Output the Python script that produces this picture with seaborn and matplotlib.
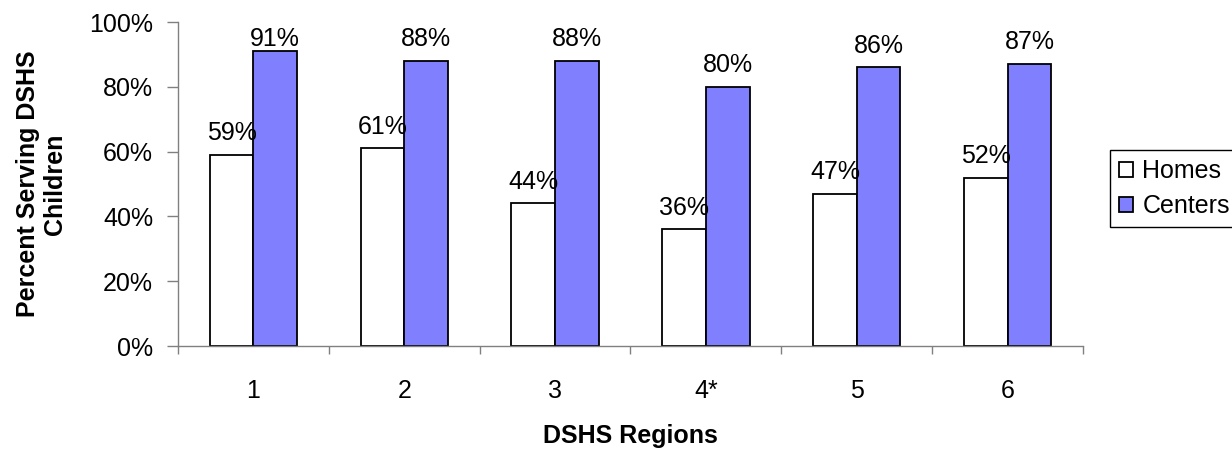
import pandas as pd
import matplotlib
matplotlib.use('Agg')
import matplotlib.pyplot as plt
import seaborn as sns
from matplotlib.ticker import PercentFormatter

regions = ['1', '2', '3', '4*', '5', '6']
homes = [0.59, 0.61, 0.44, 0.36, 0.47, 0.52]
centers = [0.91, 0.88, 0.88, 0.80, 0.86, 0.87]
series = ['Homes', 'Centers']

df = pd.DataFrame({
    'region': regions * 2,
    'type': ['Homes'] * len(regions) + ['Centers'] * len(regions),
    'value': homes + centers,
})

sns.set_style('white')
plt.rcParams['font.family'] = ['Liberation Sans', 'DejaVu Sans']
plt.rcParams['text.color'] = 'black'
plt.rcParams['axes.labelcolor'] = 'black'
plt.rcParams['xtick.labelcolor'] = 'black'
plt.rcParams['ytick.labelcolor'] = 'black'

fig = plt.figure(figsize=(12.32, 4.49), dpi=100)
ax = fig.add_axes([178 / 1232, 103 / 449, 905 / 1232, 324 / 449])

sns.barplot(data=df, x='region', y='value', hue='type', hue_order=series,
            palette={'Homes': 'white', 'Centers': '#8080FF'},
            width=0.58, gap=0, edgecolor='black', linewidth=1.3,
            saturation=1, ax=ax, legend=True)

# value labels; the ones near the top stay inside the plot area like Excel does
for c in ax.containers:
    for bar, v in zip(c, c.datavalues):
        x = bar.get_x() + bar.get_width() / 2
        ax.annotate(f'{v * 100:.0f}%', (x, min(v, 0.88)), xytext=(0, 7),
                    textcoords='offset points', ha='center', va='bottom',
                    fontsize=18, color='black')

ax.set_xlim(-0.5, 5.5)
ax.set_ylim(0, 1)
ax.yaxis.set_major_formatter(PercentFormatter(1.0, decimals=0))
ax.set_yticks([0, 0.2, 0.4, 0.6, 0.8, 1.0])
ax.set_xticks(range(6))
ax.set_xticklabels(regions)
ax.set_xticks([i - 0.5 for i in range(7)], minor=True)

for s in ['top', 'right']:
    ax.spines[s].set_visible(False)
for s in ['left', 'bottom']:
    ax.spines[s].set_color('#808080')
    ax.spines[s].set_linewidth(1.0)

ax.tick_params(axis='y', which='major', direction='out', length=8, width=1,
               color='#808080', left=True, labelsize=18, pad=10)
ax.tick_params(axis='x', which='major', length=0, labelsize=18, pad=24)
ax.tick_params(axis='x', which='minor', direction='out', length=6, width=1,
               color='#808080', bottom=True)

ax.set_xlabel('DSHS Regions', fontsize=18, fontweight='bold', labelpad=15)
ax.set_ylabel('Percent Serving DSHS\nChildren', fontsize=18, fontweight='bold',
              labelpad=16, linespacing=1.15)

handles, labels = ax.get_legend_handles_labels()
ax.legend(handles, labels, loc='lower left', bbox_to_anchor=(1110 / 1232, 222 / 449),
          bbox_transform=fig.transFigure, frameon=True, fancybox=False,
          edgecolor='black', fontsize=18, handlelength=0.55, handleheight=0.55,
          handletextpad=0.4, borderpad=0.35, borderaxespad=0, labelspacing=0.45,
          framealpha=1)
ax.get_legend().get_frame().set_linewidth(1.0)

fig.savefig('out.png', dpi=100)
